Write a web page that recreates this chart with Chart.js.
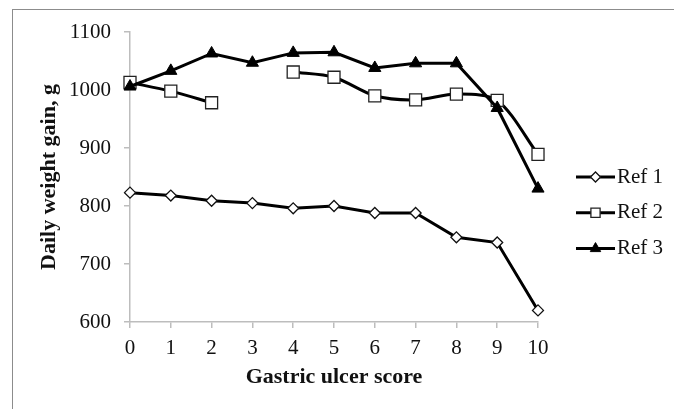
<!DOCTYPE html>
<html>
<head>
<meta charset="utf-8">
<script src="https://cdn.jsdelivr.net/npm/chart.js@4"></script>
<style>
  html, body { margin: 0; padding: 0; background: #fff; overflow: hidden; }
  #wrap { position: relative; width: 674px; height: 409px; }
  #frame {
    position: absolute; left: 12px; top: 9px; width: 800px; height: 600px;
    border-left: 1px solid #8c8c8c; border-top: 1px solid #8c8c8c;
  }
  canvas { position: absolute; left: 0; top: 0; }
</style>
</head>
<body>
<div id="wrap">
  <div id="frame"></div>
  <canvas id="ulcer-chart" width="674" height="409"></canvas>
</div>
<script>
// Data
const scores = ["0", "1", "2", "3", "4", "5", "6", "7", "8", "9", "10"];
const ref1 = [823, 818, 809, 805, 796, 800, 788, 788, 746, 737, 620];
const ref2 = [1013, 998, 978, null, 1031, 1022, 990, 983, 993, 982, 889];
const ref3 = [1006, 1033, 1063, 1047, 1064, 1065, 1038, 1046, 1046, 969, 830];
const seriesNames = ["Ref 1", "Ref 2", "Ref 3"];

const serif = "'Liberation Serif', 'Times New Roman', serif";
const axisGray = "#bdbdbd";

// Legend drawn as line + marker + label, like the original
const sideLegend = {
  id: "sideLegend",
  afterDraw(chart, args, opts) {
    const ctx = chart.ctx;
    chart.data.datasets.forEach((ds, i) => {
      const y = opts.y + i * opts.gap;
      ctx.save();
      ctx.strokeStyle = ds.borderColor;
      ctx.lineWidth = ds.borderWidth;
      ctx.beginPath();
      ctx.moveTo(opts.x, y);
      ctx.lineTo(opts.x + opts.lineLen, y);
      ctx.stroke();
      ctx.fillStyle = ds.pointBackgroundColor;
      ctx.strokeStyle = ds.pointBorderColor;
      ctx.lineWidth = ds.pointBorderWidth;
      Chart.helpers.drawPoint(ctx, {
        pointStyle: ds.pointStyle,
        radius: opts.markerRadius[i],
        rotation: 0,
        borderWidth: ds.pointBorderWidth,
      }, opts.x + opts.lineLen / 2, y);
      ctx.fillStyle = "#111";
      ctx.font = "21px " + serif;
      ctx.textBaseline = "middle";
      ctx.textAlign = "left";
      ctx.fillText(ds.label, opts.x + opts.lineLen + 2, y);
      ctx.restore();
    });
  },
};

const ctx = document.getElementById("ulcer-chart");

new Chart(ctx, {
  type: "line",
  data: {
    labels: scores,
    datasets: [
      {
        label: seriesNames[0],
        data: ref1,
        borderColor: "#000",
        borderWidth: 3,
        pointStyle: "rectRot",
        pointRadius: 5.5,
        pointBackgroundColor: "#fff",
        pointBorderColor: "#111",
        pointBorderWidth: 1.3,
        tension: 0,
      },
      {
        label: seriesNames[1],
        data: ref2,
        borderColor: "#000",
        borderWidth: 3,
        pointStyle: "rect",
        pointRadius: 8.5,
        pointBackgroundColor: "#fff",
        pointBorderColor: "#222",
        pointBorderWidth: 1.3,
        tension: 0.3,
        spanGaps: false,
        order: 1,
      },
      {
        label: seriesNames[2],
        data: ref3,
        borderColor: "#000",
        borderWidth: 3,
        pointStyle: "triangle",
        pointRadius: 7,
        pointBackgroundColor: "#000",
        pointBorderColor: "#000",
        pointBorderWidth: 1,
        tension: 0,
        order: -1,
      },
    ],
  },
  options: {
    responsive: false,
    animation: false,
    layout: {
      padding: { left: 0, top: 32, right: 136, bottom: 0 },
    },
    scales: {
      x: {
        type: "category",
        offset: false,
        grid: {
          drawOnChartArea: false,
          drawTicks: true,
          tickLength: 6,
          color: axisGray,
          lineWidth: 1.5,
        },
        border: { color: axisGray, width: 1.5 },
        ticks: {
          color: "#111",
          font: { family: serif, size: 21 },
          padding: 8,
          maxRotation: 0,
          autoSkip: false,
        },
        title: {
          display: true,
          text: "Gastric ulcer score",
          color: "#111",
          font: { family: serif, size: 22, weight: "bold" },
          padding: { top: 0, bottom: 18 },
        },
        afterFit(scale) {
          scale.height = 87;
        },
      },
      y: {
        min: 600,
        max: 1100,
        grid: {
          drawOnChartArea: false,
          drawTicks: true,
          tickLength: 6,
          color: axisGray,
          lineWidth: 1.5,
        },
        border: { color: axisGray, width: 1.5 },
        ticks: {
          stepSize: 100,
          color: "#111",
          font: { family: serif, size: 21 },
          padding: 13,
          callback: (v) => String(v),
        },
        title: {
          display: true,
          text: "Daily weight gain, g",
          color: "#111",
          font: { family: serif, size: 22, weight: "bold" },
          padding: { top: 36, bottom: 0 },
        },
        afterFit(scale) {
          scale.width = 130;
        },
      },
    },
    plugins: {
      legend: { display: false },
      tooltip: { enabled: false },
      sideLegend: {
        x: 576, y: 177, gap: 35.8, lineLen: 39,
        markerRadius: [5, 6.5, 6],
      },
    },
  },
  plugins: [sideLegend],
});
</script>
</body>
</html>
